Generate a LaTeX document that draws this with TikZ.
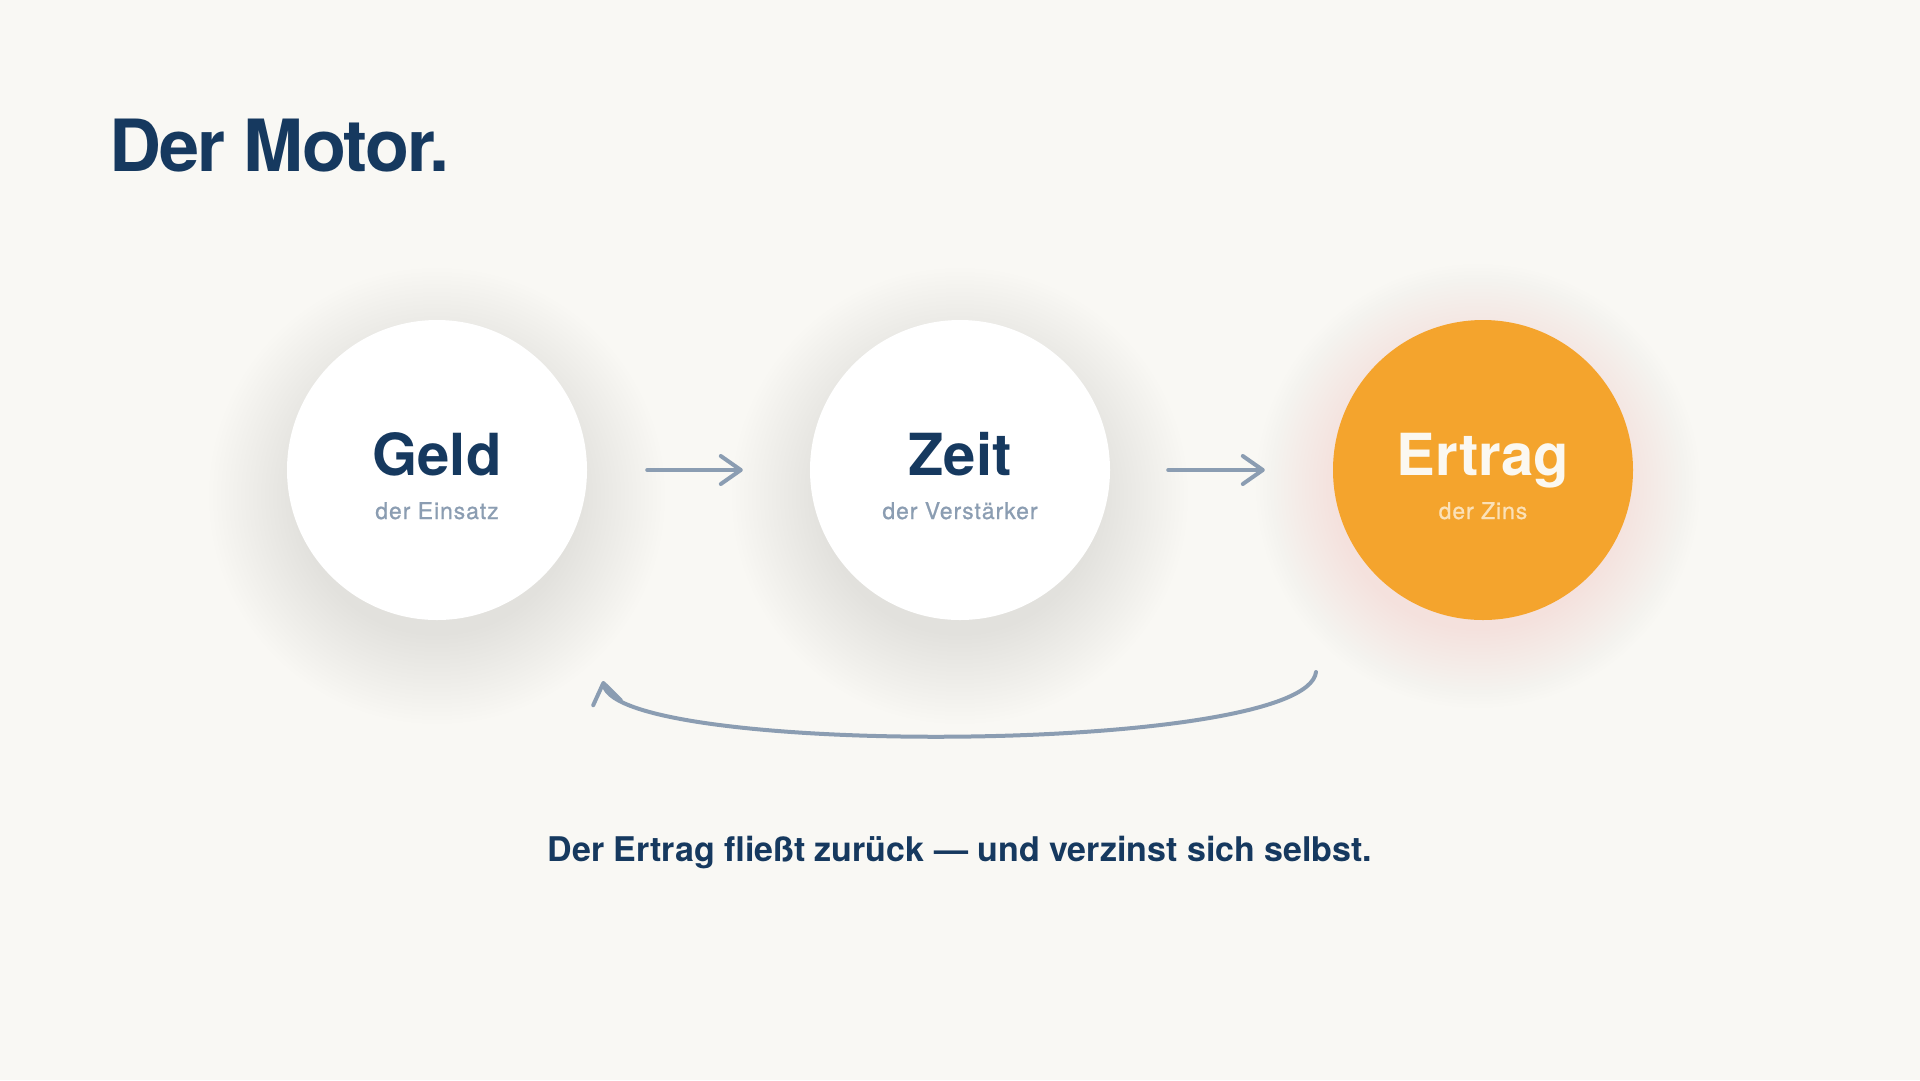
\documentclass[tikz,border=0pt]{standalone}
\usepackage{fontspec}
\setmainfont{TeX Gyre Heros}
\newfontfamily\headfont[LetterSpace=-2.5]{TeX Gyre Heros}
\newfontfamily\subfont[LetterSpace=4,FakeBold=0.8]{TeX Gyre Heros}
\usetikzlibrary{arrows.meta}
\definecolor{paper}{HTML}{F9F8F4}
\definecolor{navy}{HTML}{16395F}
\definecolor{slate}{HTML}{8B9DB2}
\definecolor{sun}{HTML}{F4A42D}
\definecolor{peach}{HTML}{FBE1B8}
\definecolor{cream}{HTML}{FBF8F1}

\begin{document}
\begin{tikzpicture}[x=1pt,y=-1pt,
                    disc/.style={circle,minimum size=300pt,inner sep=0pt,fill=white},
                    word/.style={anchor=base,inner sep=0pt,text=navy,
                                 font=\fontsize{58}{60}\selectfont\bfseries},
                    note/.style={anchor=base,inner sep=0pt,text=slate,
                                 font=\subfont\fontsize{23}{26}\selectfont},
                    flow/.style={draw=slate,line width=4pt,line cap=round,
                                 -{Straight Barb[length=20pt,width=28pt,round]}}]

   \fill[paper] (0,0) rectangle (1920,1080);
   \useasboundingbox (0,0) rectangle (1920,1080);

   % soft shadows under the discs
   \foreach \x in {437,960}{%
     \foreach \k in {0,...,22}
       \fill[black,opacity=.0024] (\x,496) circle[radius=140pt+\k*4pt];
   }
   \foreach \k in {0,...,22}
     \fill[sun,opacity=.0055] (1478,486) circle[radius=145pt+\k*3.5pt];

   \node[disc] (geld) at (437,470) {};
   \node[disc] (zeit) at (960,470) {};
   \node[disc,fill=sun] (ertrag) at (1483,470) {};

   \node[word] (geldname) at (437,475) {Geld};
   \node[note] (geldsub) at (437,519) {der Einsatz};
   \node[word] (zeitname) at (960,475) {Zeit};
   \node[note] (zeitsub) at (960,519) {der Verstärker};
   \node[word,text=cream] (ertragname) at (1483,475) {Ertrag};
   \node[note,text=peach] (ertragsub) at (1483,519) {der Zins};

   \node[anchor=base west,inner sep=0pt,text=navy,
         font=\headfont\fontsize{72}{80}\selectfont\bfseries] (title) at (109,171) {Der Motor.};

   \draw[flow,shorten <=60pt,shorten >=67pt] (geld) -- (zeit);
   \draw[flow,shorten <=58pt,shorten >=68pt] (zeit) -- (ertrag);

   % the way back
   \coordinate (loopstart) at (1316,672);
   \coordinate (loopend) at (603,681);
   \draw[flow] (loopstart) .. controls +(-10,83) and +(14,76) .. (loopend);

   \node[anchor=base,inner sep=0pt,text=navy,
         font=\fontsize{34}{40}\selectfont\bfseries] (motto) at (960,861)
        {Der Ertrag fließt zurück — und verzinst sich selbst.};
\end{tikzpicture}
\end{document}
